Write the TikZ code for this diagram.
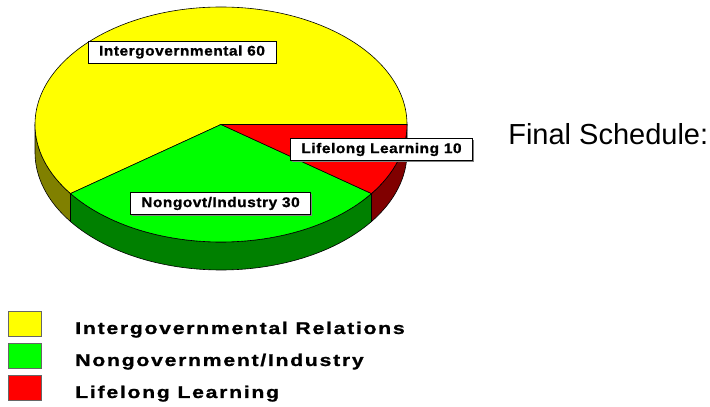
\documentclass[tikz,border=0pt]{standalone}
\usepackage{fontspec}
\setmainfont{Liberation Sans}
\newfontfamily\slicefont[FakeStretch=1.1,FakeBold=1,LetterSpace=4]{Liberation Sans Bold}
\newfontfamily\keyfont[FakeStretch=1.25,FakeBold=1,LetterSpace=10]{Liberation Sans Bold}
\usetikzlibrary{positioning,shadows}
\definecolor{pieyellow}{RGB}{255,255,0}
\definecolor{piegreen}{RGB}{0,255,0}
\definecolor{piered}{RGB}{255,0,0}
\definecolor{sideyellow}{RGB}{128,128,0}
\definecolor{sidegreen}{RGB}{0,128,0}
\definecolor{sidered}{RGB}{128,0,0}

\begin{document}
\begin{tikzpicture}[x=1pt,y=1pt,line width=0.6pt,
  slicelabel/.style={draw,fill=white,inner xsep=11pt,inner ysep=0pt,minimum height=22pt,
    drop shadow={shadow xshift=1.2pt,shadow yshift=-1.2pt,fill=gray,opacity=1},
    font=\slicefont\fontsize{14}{16}\selectfont},
  keybox/.style={draw=black!60,line width=1pt,minimum width=33pt,minimum height=25pt,inner sep=0pt},
  keytext/.style={anchor=base west,inner sep=0pt,font=\keyfont\fontsize{17}{20}\selectfont}]
\useasboundingbox (0,0) rectangle (710,407);
\coordinate (C) at (221,282.5);

% side walls
\filldraw[fill=sideyellow] (C) ++(180:186 and 117.5) arc[start angle=180,end angle=216,x radius=186,y radius=117.5]
  -- ++(0,-28) arc[start angle=216,end angle=180,x radius=186,y radius=117.5] -- cycle;
\filldraw[fill=sidegreen] (C) ++(216:186 and 117.5) arc[start angle=216,end angle=324,x radius=186,y radius=117.5]
  -- ++(0,-28) arc[start angle=324,end angle=216,x radius=186,y radius=117.5] -- cycle;
\filldraw[fill=sidered] (C) ++(324:186 and 117.5) arc[start angle=324,end angle=360,x radius=186,y radius=117.5]
  -- ++(0,-28) arc[start angle=360,end angle=324,x radius=186,y radius=117.5] -- cycle;

% top face
\filldraw[fill=pieyellow] (C) -- ++(0:186 and 117.5) arc[start angle=0,end angle=216,x radius=186,y radius=117.5] -- cycle;
\filldraw[fill=piegreen] (C) -- ++(216:186 and 117.5) arc[start angle=216,end angle=324,x radius=186,y radius=117.5] -- cycle;
\filldraw[fill=piered] (C) -- ++(324:186 and 117.5) arc[start angle=324,end angle=360,x radius=186,y radius=117.5] -- cycle;

% slice labels
\node[slicelabel] (intergov) at (182,355) {Intergovernmental 60};
\node[slicelabel] (lifelong) at (381.5,257.5) {Lifelong Learning 10};
\node[slicelabel] (nongovt) at (220.5,203.5) {Nongovt/Industry 30};

\node[anchor=base west,inner sep=0pt,font=\fontsize{29}{34}\selectfont] (title) at (508,262) {Final Schedule:};

% legend
\node[keybox,fill=pieyellow] (keyA) at (24.5,82.5) {};
\node[keybox,fill=piegreen] (keyB) at (24.5,50.5) {};
\node[keybox,fill=piered] (keyC) at (24.5,18.5) {};
\node[keytext] (textA) at (75,73) {Intergovernmental Relations};
\node[keytext] (textB) at (75,41) {Nongovernment/Industry};
\node[keytext] (textC) at (75,9) {Lifelong Learning};

\end{tikzpicture}
\end{document}
